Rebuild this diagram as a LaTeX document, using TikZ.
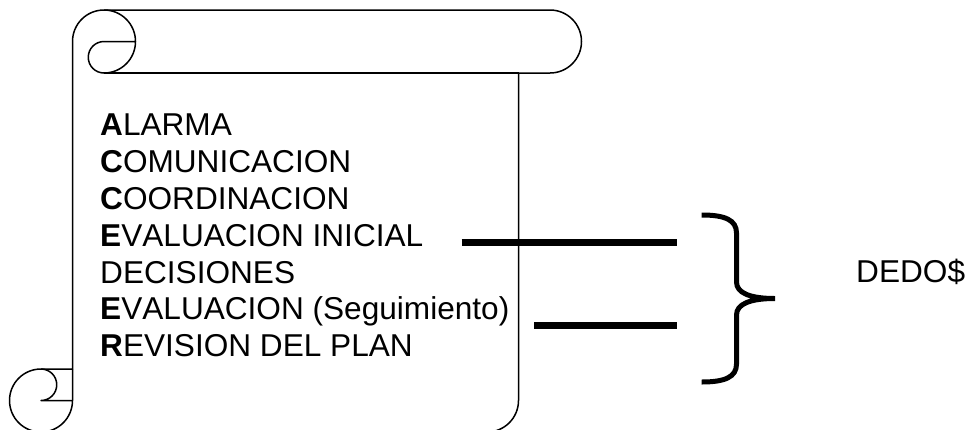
\documentclass[tikz,border=0pt]{standalone}
\usepackage{fontspec}
\setmainfont{Liberation Sans}[Kerning=Off]
\usepackage{tikz}
\usetikzlibrary{positioning}
\tikzset{x=1pt,y=-1pt}
\tikzset{scroll/.style={line width=1.5pt,line join=round}}
\tikzset{item/.style={anchor=base west,inner sep=0pt,font=\fontsize{31.6}{36.8}\selectfont}}
\tikzset{bar/.style={line width=7.5pt}}
\tikzset{bracket/.style={line width=5pt}}

\begin{document}
\begin{tikzpicture}
        \clip (0,0) rectangle (965,429);
        % scroll outline
        \draw[scroll] (72.5,369) -- (72.5,41.5) arc[start angle=180,delta angle=90,radius=31.5]
            -- (550,10) arc[start angle=270,delta angle=180,radius=31.5]
            -- (518.5,73) -- (518.5,400.5) arc[start angle=0,delta angle=90,radius=31.5]
            -- (41,432) arc[start angle=90,delta angle=180,radius=31.5] -- cycle;
        \draw[scroll] (104,10) arc[start angle=270,delta angle=180,radius=31.5]
            arc[start angle=90,delta angle=180,radius=15.75] -- (135.5,41.5);
        \draw[scroll] (518.5,73) -- (104,73);
        \draw[scroll] (41,369) arc[start angle=270,delta angle=180,radius=15.75] -- (72.5,400.5);
        \draw[scroll] (41,432) arc[start angle=90,delta angle=-90,radius=31.5] -- (72.5,369);
        % list
        \node[item] (alarma) at (100,135.8) {\textbf{A}LARMA};
        \node[item] (comunic) at (100,172.6) {\textbf{C}OMUNICACION};
        \node[item] (coord) at (100,209.4) {\textbf{C}OORDINACION};
        \node[item] (evalini) at (100,246.2) {\textbf{E}VALUACION INICIAL};
        \node[item] (decis) at (100,283) {DECISIONES};
        \node[item] (evalseg) at (100,319.8) {\textbf{E}VALUACION (Seguimiento)};
        \node[item] (revis) at (100,356.6) {\textbf{R}EVISION DEL PLAN};
        \node[item] (dedos) at (856,282.7) {DEDO\$};
        % bars and brace
        \coordinate (b1s) at (461.7,242.7);
        \coordinate (b1e) at (677.3,242.7);
        \coordinate (b2s) at (534,325.7);
        \coordinate (b2e) at (677.3,325.7);
        \draw[bar] (b1s) -- (b1e);
        \draw[bar] (b2s) -- (b2e);
        \coordinate (btop) at (701.7,215);
        \coordinate (btip) at (775,298.5);
        \coordinate (bbot) at (701.7,382);
        \draw[bracket] (btop) .. controls (725,215) and (736.5,220) .. (736.5,233) -- (736.5,282)
            .. controls (736.5,293) and (750,298.5) .. (btip)
            .. controls (750,298.5) and (736.5,304) .. (736.5,315) -- (736.5,364)
            .. controls (736.5,377) and (725,382) .. (bbot);
    \end{tikzpicture}
\end{document}
